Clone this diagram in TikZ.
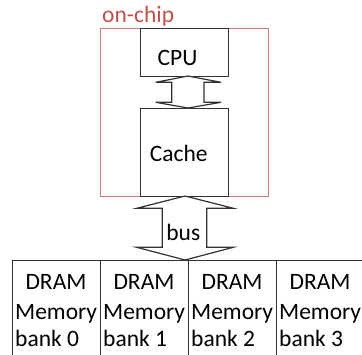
\documentclass[tikz,border=0pt]{standalone}
\usepackage{fontspec}
\setmainfont{Carlito}
\definecolor{chipred}{HTML}{C0504D}
\definecolor{chipline}{RGB}{210,120,118}
\definecolor{boxline}{RGB}{50,50,50}
\begin{document}
\begin{tikzpicture}[x=1pt,y=-1pt,
  txt/.style={inner sep=0pt,font=\fontsize{23.5}{28}\selectfont,text=black},
  blk/.style={draw=boxline,line width=1.2pt,line join=miter},
  bankbox/.style={blk,rectangle,minimum width=88pt,minimum height=110pt,inner sep=0pt,anchor=north west}]
\useasboundingbox (0,0) rectangle (362,354);
% on-chip region
\node[draw=chipline,line width=1pt,rectangle,inner sep=0pt,minimum width=168pt,minimum height=168pt,anchor=north west] (chip) at (100,28) {};
\node[txt,text=chipred,anchor=base west] (chiplbl) at (102,22) {on-chip};
% CPU and cache
\node[blk,rectangle,inner sep=0pt,minimum width=88pt,minimum height=48pt,anchor=north west] (cpu) at (140,28) {};
\node[txt,anchor=base] (cpulbl) at (177.5,65) {CPU};
\node[blk,rectangle,inner sep=0pt,minimum width=88pt,minimum height=88pt,anchor=north west] (cache) at (140,108) {};
\node[txt,anchor=base] (cachelbl) at (178.7,161.7) {Cache};
% double arrow CPU <-> cache
\draw[blk,fill=white] (188,76) -- (221,82.3) -- (204,82.3) -- (204,102.3) -- (221,102.3) -- (188,108)
  -- (155.7,102.3) -- (171.7,102.3) -- (171.7,82.3) -- (155.7,82.3) -- cycle;
% memory banks
\node[bankbox] (b0) at (12,260) {};
\node[bankbox] (b1) at (100,260) {};
\node[bankbox] (b2) at (188,260) {};
\node[bankbox] (b3) at (276,260) {};
% bus arrow
\draw[blk,fill=white] (185,196) -- (233.3,208.3) -- (206.7,208.3) -- (206.7,247.3) -- (233.3,247.3) -- (185,260)
  -- (136.7,247.3) -- (162.3,247.3) -- (162.3,208.3) -- (136.7,208.3) -- cycle;
\node[txt,anchor=base] (buslbl) at (183.3,240) {bus};
% bank labels
\foreach \i/\x in {0/12,1/100,2/188,3/276}{
  \node[txt,anchor=base] (d\i) at (\x+44,289.3) {DRAM};
  \node[txt,anchor=base west] (m\i) at (\x+3,319.3) {Memory};
  \node[txt,anchor=base west] (k\i) at (\x+3,346.7) {bank \i};
}
\end{tikzpicture}
\end{document}
